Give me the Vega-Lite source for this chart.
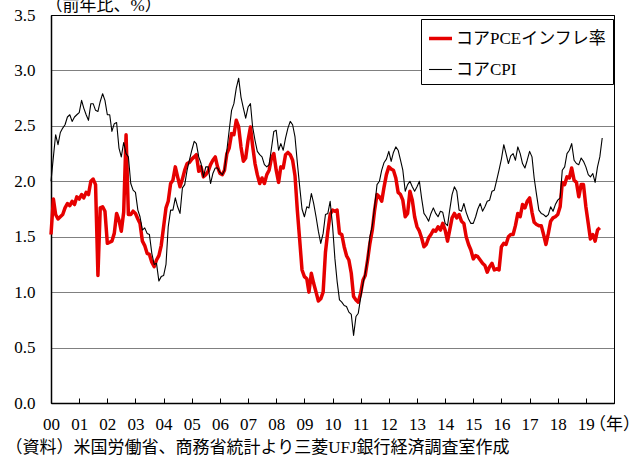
{
"$schema":"https://vega.github.io/schema/vega-lite/v6.json",
"width":563,"height":388,
"autosize":"none",
"padding":{"left":51,"top":15,"right":25,"bottom":55},
"background":"white",
"config":{
 "font":"Liberation Serif, Noto Sans CJK JP",
 "view":{"stroke":"#000","strokeWidth":1},
 "axis":{"labelColor":"#000","titleColor":"#000","domainColor":"#000","tickColor":"#000","labelFontSize":17,"titleFontSize":17,"titleFontWeight":"normal","labelFont":"Liberation Serif, Noto Sans CJK JP","titleFont":"Liberation Serif, Noto Sans CJK JP"},
 "legend":{"labelFont":"Liberation Serif, Noto Sans CJK JP"}
},
"data":{"values":[
{"d":"2000-01","p":1.52,"c":2.00},{"d":"2000-02","p":1.84,"c":2.22},{"d":"2000-03","p":1.70,"c":2.42},{"d":"2000-04","p":1.66,"c":2.33},{"d":"2000-05","p":1.68,"c":2.44},{"d":"2000-06","p":1.70,"c":2.48},{"d":"2000-07","p":1.76,"c":2.51},{"d":"2000-08","p":1.80,"c":2.58},{"d":"2000-09","p":1.78,"c":2.60},{"d":"2000-10","p":1.82,"c":2.54},{"d":"2000-11","p":1.79,"c":2.58},{"d":"2000-12","p":1.86,"c":2.60},
{"d":"2001-01","p":1.84,"c":2.62},{"d":"2001-02","p":1.88,"c":2.73},{"d":"2001-03","p":1.85,"c":2.66},{"d":"2001-04","p":1.90,"c":2.60},{"d":"2001-05","p":1.88,"c":2.55},{"d":"2001-06","p":2.00,"c":2.70},{"d":"2001-07","p":2.02,"c":2.70},{"d":"2001-08","p":1.97,"c":2.64},{"d":"2001-09","p":1.15,"c":2.63},{"d":"2001-10","p":1.76,"c":2.72},{"d":"2001-11","p":1.77,"c":2.79},{"d":"2001-12","p":1.73,"c":2.73},
{"d":"2002-01","p":1.44,"c":2.60},{"d":"2002-02","p":1.45,"c":2.60},{"d":"2002-03","p":1.46,"c":2.45},{"d":"2002-04","p":1.53,"c":2.52},{"d":"2002-05","p":1.71,"c":2.53},{"d":"2002-06","p":1.65,"c":2.30},{"d":"2002-07","p":1.55,"c":2.22},{"d":"2002-08","p":1.72,"c":2.35},{"d":"2002-09","p":2.42,"c":2.25},{"d":"2002-10","p":1.70,"c":2.22},{"d":"2002-11","p":1.70,"c":1.98},{"d":"2002-12","p":1.73,"c":1.92},
{"d":"2003-01","p":1.71,"c":1.90},{"d":"2003-02","p":1.66,"c":1.74},{"d":"2003-03","p":1.62,"c":1.68},{"d":"2003-04","p":1.46,"c":1.56},{"d":"2003-05","p":1.42,"c":1.58},{"d":"2003-06","p":1.35,"c":1.53},{"d":"2003-07","p":1.34,"c":1.52},{"d":"2003-08","p":1.27,"c":1.35},{"d":"2003-09","p":1.23,"c":1.25},{"d":"2003-10","p":1.29,"c":1.26},{"d":"2003-11","p":1.33,"c":1.10},{"d":"2003-12","p":1.42,"c":1.14},
{"d":"2004-01","p":1.59,"c":1.15},{"d":"2004-02","p":1.76,"c":1.25},{"d":"2004-03","p":1.82,"c":1.59},{"d":"2004-04","p":1.98,"c":1.74},{"d":"2004-05","p":2.01,"c":1.74},{"d":"2004-06","p":2.13,"c":1.85},{"d":"2004-07","p":2.04,"c":1.77},{"d":"2004-08","p":1.95,"c":1.71},{"d":"2004-09","p":2.02,"c":1.94},{"d":"2004-10","p":2.10,"c":1.97},{"d":"2004-11","p":2.16,"c":2.10},{"d":"2004-12","p":2.17,"c":2.19},
{"d":"2005-01","p":2.20,"c":2.28},{"d":"2005-02","p":2.22,"c":2.36},{"d":"2005-03","p":2.24,"c":2.34},{"d":"2005-04","p":2.09,"c":2.22},{"d":"2005-05","p":2.13,"c":2.16},{"d":"2005-06","p":2.04,"c":2.04},{"d":"2005-07","p":2.06,"c":2.13},{"d":"2005-08","p":2.09,"c":2.13},{"d":"2005-09","p":2.15,"c":1.98},{"d":"2005-10","p":2.19,"c":2.07},{"d":"2005-11","p":2.22,"c":2.12},{"d":"2005-12","p":2.13,"c":2.12},
{"d":"2006-01","p":2.07,"c":2.08},{"d":"2006-02","p":2.06,"c":2.06},{"d":"2006-03","p":2.10,"c":2.10},{"d":"2006-04","p":2.25,"c":2.28},{"d":"2006-05","p":2.30,"c":2.46},{"d":"2006-06","p":2.43,"c":2.64},{"d":"2006-07","p":2.42,"c":2.70},{"d":"2006-08","p":2.55,"c":2.84},{"d":"2006-09","p":2.49,"c":2.93},{"d":"2006-10","p":2.31,"c":2.76},{"d":"2006-11","p":2.18,"c":2.66},{"d":"2006-12","p":2.21,"c":2.57},
{"d":"2007-01","p":2.37,"c":2.67},{"d":"2007-02","p":2.49,"c":2.70},{"d":"2007-03","p":2.32,"c":2.49},{"d":"2007-04","p":2.16,"c":2.37},{"d":"2007-05","p":2.06,"c":2.27},{"d":"2007-06","p":1.98,"c":2.24},{"d":"2007-07","p":2.03,"c":2.22},{"d":"2007-08","p":1.98,"c":2.15},{"d":"2007-09","p":2.06,"c":2.13},{"d":"2007-10","p":2.10,"c":2.15},{"d":"2007-11","p":2.21,"c":2.30},{"d":"2007-12","p":2.25,"c":2.45},
{"d":"2008-01","p":2.10,"c":2.46},{"d":"2008-02","p":1.99,"c":2.28},{"d":"2008-03","p":2.13,"c":2.34},{"d":"2008-04","p":2.12,"c":2.28},{"d":"2008-05","p":2.24,"c":2.39},{"d":"2008-06","p":2.26,"c":2.48},{"d":"2008-07","p":2.24,"c":2.54},{"d":"2008-08","p":2.19,"c":2.51},{"d":"2008-09","p":2.05,"c":2.40},{"d":"2008-10","p":1.74,"c":2.17},{"d":"2008-11","p":1.47,"c":1.95},{"d":"2008-12","p":1.20,"c":1.75},
{"d":"2009-01","p":1.14,"c":1.68},{"d":"2009-02","p":1.12,"c":1.77},{"d":"2009-03","p":1.00,"c":1.76},{"d":"2009-04","p":1.17,"c":1.89},{"d":"2009-05","p":1.08,"c":1.80},{"d":"2009-06","p":1.00,"c":1.68},{"d":"2009-07","p":0.92,"c":1.55},{"d":"2009-08","p":0.94,"c":1.44},{"d":"2009-09","p":1.00,"c":1.53},{"d":"2009-10","p":1.36,"c":1.70},{"d":"2009-11","p":1.55,"c":1.71},{"d":"2009-12","p":1.70,"c":1.82},
{"d":"2010-01","p":1.74,"c":1.60},{"d":"2010-02","p":1.73,"c":1.30},{"d":"2010-03","p":1.74,"c":1.10},{"d":"2010-04","p":1.53,"c":0.93},{"d":"2010-05","p":1.52,"c":0.91},{"d":"2010-06","p":1.41,"c":0.88},{"d":"2010-07","p":1.33,"c":0.87},{"d":"2010-08","p":1.29,"c":0.82},{"d":"2010-09","p":1.17,"c":0.80},{"d":"2010-10","p":0.96,"c":0.61},{"d":"2010-11","p":0.93,"c":0.78},{"d":"2010-12","p":0.91,"c":0.81},
{"d":"2011-01","p":0.99,"c":0.95},{"d":"2011-02","p":1.11,"c":1.08},{"d":"2011-03","p":1.15,"c":1.17},{"d":"2011-04","p":1.29,"c":1.30},{"d":"2011-05","p":1.44,"c":1.50},{"d":"2011-06","p":1.56,"c":1.60},{"d":"2011-07","p":1.74,"c":1.77},{"d":"2011-08","p":1.88,"c":1.97},{"d":"2011-09","p":1.86,"c":2.00},{"d":"2011-10","p":1.82,"c":2.10},{"d":"2011-11","p":1.95,"c":2.17},{"d":"2011-12","p":2.06,"c":2.20},
{"d":"2012-01","p":2.13,"c":2.27},{"d":"2012-02","p":2.11,"c":2.18},{"d":"2012-03","p":2.10,"c":2.26},{"d":"2012-04","p":2.03,"c":2.31},{"d":"2012-05","p":1.90,"c":2.28},{"d":"2012-06","p":1.88,"c":2.19},{"d":"2012-07","p":1.83,"c":2.10},{"d":"2012-08","p":1.68,"c":1.91},{"d":"2012-09","p":1.71,"c":1.97},{"d":"2012-10","p":1.91,"c":2.00},{"d":"2012-11","p":1.83,"c":1.95},{"d":"2012-12","p":1.68,"c":1.91},
{"d":"2013-01","p":1.59,"c":1.95},{"d":"2013-02","p":1.55,"c":2.00},{"d":"2013-03","p":1.49,"c":1.85},{"d":"2013-04","p":1.41,"c":1.71},{"d":"2013-05","p":1.43,"c":1.68},{"d":"2013-06","p":1.49,"c":1.64},{"d":"2013-07","p":1.52,"c":1.71},{"d":"2013-08","p":1.56,"c":1.76},{"d":"2013-09","p":1.55,"c":1.71},{"d":"2013-10","p":1.59,"c":1.68},{"d":"2013-11","p":1.56,"c":1.73},{"d":"2013-12","p":1.62,"c":1.72},
{"d":"2014-01","p":1.56,"c":1.62},{"d":"2014-02","p":1.46,"c":1.60},{"d":"2014-03","p":1.56,"c":1.74},{"d":"2014-04","p":1.67,"c":1.88},{"d":"2014-05","p":1.71,"c":1.95},{"d":"2014-06","p":1.67,"c":1.91},{"d":"2014-07","p":1.70,"c":1.74},{"d":"2014-08","p":1.64,"c":1.73},{"d":"2014-09","p":1.62,"c":1.80},{"d":"2014-10","p":1.50,"c":1.72},{"d":"2014-11","p":1.43,"c":1.66},{"d":"2014-12","p":1.38,"c":1.62},
{"d":"2015-01","p":1.30,"c":1.62},{"d":"2015-02","p":1.33,"c":1.68},{"d":"2015-03","p":1.32,"c":1.75},{"d":"2015-04","p":1.29,"c":1.80},{"d":"2015-05","p":1.26,"c":1.73},{"d":"2015-06","p":1.24,"c":1.77},{"d":"2015-07","p":1.18,"c":1.82},{"d":"2015-08","p":1.23,"c":1.83},{"d":"2015-09","p":1.26,"c":1.91},{"d":"2015-10","p":1.20,"c":1.92},{"d":"2015-11","p":1.21,"c":2.01},{"d":"2015-12","p":1.20,"c":2.10},
{"d":"2016-01","p":1.41,"c":2.20},{"d":"2016-02","p":1.44,"c":2.33},{"d":"2016-03","p":1.43,"c":2.25},{"d":"2016-04","p":1.50,"c":2.16},{"d":"2016-05","p":1.52,"c":2.23},{"d":"2016-06","p":1.52,"c":2.25},{"d":"2016-07","p":1.60,"c":2.19},{"d":"2016-08","p":1.71,"c":2.31},{"d":"2016-09","p":1.68,"c":2.25},{"d":"2016-10","p":1.79,"c":2.16},{"d":"2016-11","p":1.76,"c":2.12},{"d":"2016-12","p":1.82,"c":2.19},
{"d":"2017-01","p":1.85,"c":2.27},{"d":"2017-02","p":1.72,"c":2.22},{"d":"2017-03","p":1.63,"c":2.03},{"d":"2017-04","p":1.61,"c":1.88},{"d":"2017-05","p":1.60,"c":1.74},{"d":"2017-06","p":1.60,"c":1.71},{"d":"2017-07","p":1.52,"c":1.70},{"d":"2017-08","p":1.43,"c":1.68},{"d":"2017-09","p":1.53,"c":1.70},{"d":"2017-10","p":1.64,"c":1.77},{"d":"2017-11","p":1.67,"c":1.73},{"d":"2017-12","p":1.68,"c":1.79},
{"d":"2018-01","p":1.70,"c":1.83},{"d":"2018-02","p":1.77,"c":1.85},{"d":"2018-03","p":1.99,"c":2.10},{"d":"2018-04","p":1.97,"c":2.13},{"d":"2018-05","p":2.04,"c":2.25},{"d":"2018-06","p":2.03,"c":2.28},{"d":"2018-07","p":2.12,"c":2.34},{"d":"2018-08","p":2.01,"c":2.19},{"d":"2018-09","p":1.99,"c":2.16},{"d":"2018-10","p":1.86,"c":2.15},{"d":"2018-11","p":1.97,"c":2.21},{"d":"2018-12","p":1.97,"c":2.18},
{"d":"2019-01","p":1.77,"c":2.13},{"d":"2019-02","p":1.62,"c":2.06},{"d":"2019-03","p":1.48,"c":2.04},{"d":"2019-04","p":1.52,"c":2.07},{"d":"2019-05","p":1.46,"c":1.99},{"d":"2019-06","p":1.56,"c":2.13},{"d":"2019-07","p":1.58,"c":2.22},{"d":"2019-08","p":null,"c":2.39}
]},
"transform":[{"fold":["p","c"],"as":["s","v"]}],
"encoding":{
 "x":{"field":"d","type":"temporal",
  "scale":{"type":"utc","domain":[{"year":2000,"month":1,"date":1,"utc":true},{"year":2020,"month":1,"date":1,"utc":true}]},
  "axis":{"tickCount":{"interval":"year","step":1},
   "labelExpr":"utcyear(datum.value) >= 2020 ? '（年）' : utcFormat(datum.value, '%y')",
   "labelOverlap":false,"labelFlush":false,"labelBound":false,"labelPadding":18,"tickSize":-5,"tickWidth":1,"domainWidth":1.5,"grid":false,
   "title":"（資料）米国労働省、商務省統計より三菱UFJ銀行経済調査室作成","titleX":-46,"titleY":49,"titleAlign":"left","titleBaseline":"alphabetic","titleAnchor":"start"}},
 "y":{"field":"v","type":"quantitative","scale":{"domain":[0,3.5],"nice":false},
  "axis":{"values":[0,0.5,1,1.5,2,2.5,3,3.5],"format":".1f","ticks":false,"tickSize":0,"labelPadding":16,"domainWidth":1.5,
   "grid":true,"gridColor":"#000","gridDash":[1,1],"gridWidth":1,
   "title":"（前年比、%）","titleAngle":0,"titleX":-6,"titleY":-5,"titleAlign":"left","titleBaseline":"alphabetic","titleAnchor":"start"}},
 "color":{"field":"s","type":"nominal","scale":{"domain":["p","c"],"range":["#e60000","#000000"]},
  "legend":{"orient":"none","legendX":370,"legendY":4,"title":null,"fillColor":"#fff","strokeColor":"#000","padding":6,"labelFontSize":17,"labelColor":"#000","symbolSize":529,"rowPadding":10,"labelOffset":2,
   "labelExpr":"datum.label == 'p' ? 'コアPCEインフレ率' : 'コアCPI'"}},
 "strokeWidth":{"field":"s","type":"nominal","scale":{"domain":["p","c"],"range":[3.5,1.1]},
  "legend":{"orient":"none","legendX":370,"legendY":4,"title":null,"fillColor":"#fff","strokeColor":"#000","padding":6,"labelFontSize":17,"labelColor":"#000","symbolSize":529,"rowPadding":10,"labelOffset":2,
   "labelExpr":"datum.label == 'p' ? 'コアPCEインフレ率' : 'コアCPI'"}}
},
"layer":[
 {"transform":[{"filter":"datum.s == 'p'"}],"mark":{"type":"line","strokeJoin":"round"}},
 {"transform":[{"filter":"datum.s == 'c'"}],"mark":{"type":"line","strokeJoin":"round"}}
]
}
